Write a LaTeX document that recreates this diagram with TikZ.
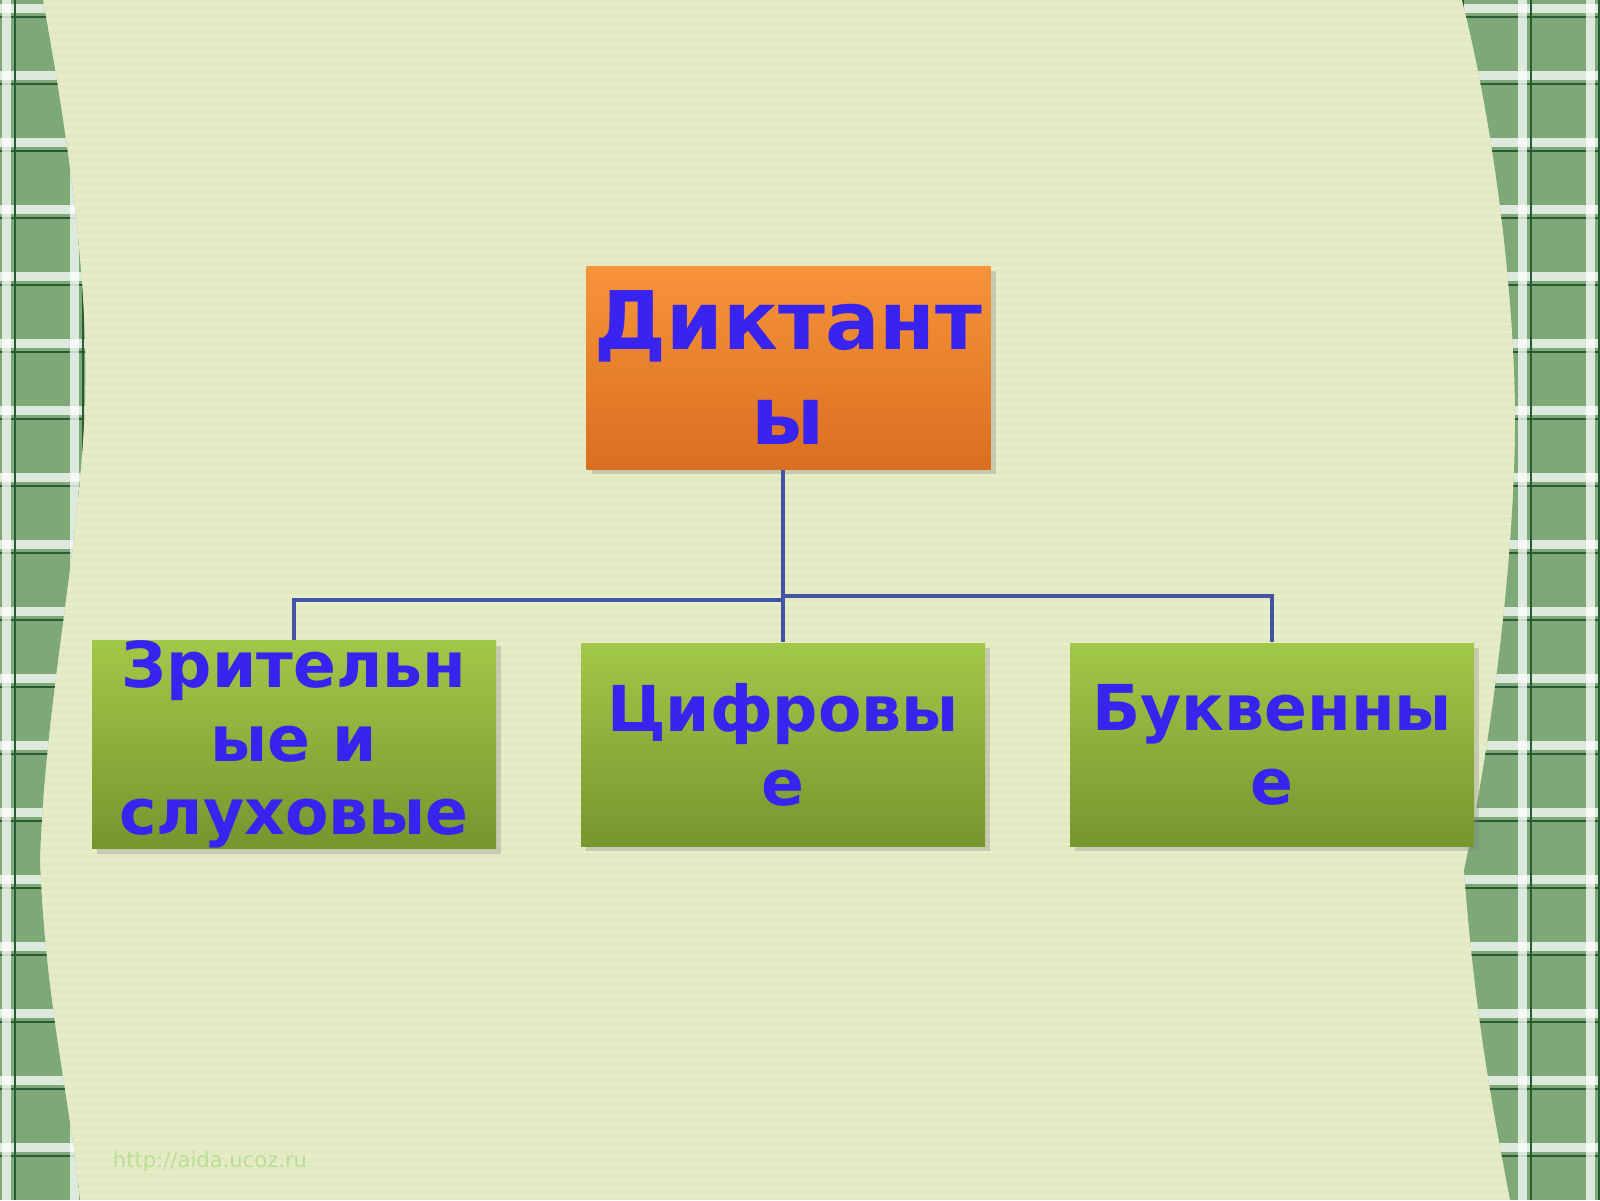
\documentclass[tikz,border=0pt]{standalone}
\usepackage{fontspec}
\setmainfont{DejaVu Sans}
\usetikzlibrary{shadows}
\definecolor{paper}{RGB}{227,234,194}
\definecolor{ink}{RGB}{56,36,238}
\definecolor{wire}{RGB}{68,84,164}
\definecolor{cellgreen}{RGB}{126,168,120}
\definecolor{darkgreen}{RGB}{42,92,52}
\definecolor{orangetop}{RGB}{246,148,58}
\definecolor{orangebot}{RGB}{218,110,32}
\definecolor{greentop}{RGB}{162,200,72}
\definecolor{greenbot}{RGB}{118,150,46}
\definecolor{urlgreen}{RGB}{186,222,150}

% plaid border: x0, x1, first vertical band
\newcommand\plaid[3]{%
  \fill[cellgreen] (#1,0) rectangle (#2,-12);
  \foreach \k in {0,...,18} {
    \fill[white, opacity=0.75] (#1,{-0.67*\k-0.04}) rectangle (#2,{-0.67*\k-0.13});
    \draw[darkgreen, line width=0.6pt] (#1,{-0.67*\k-0.17}) -- (#2,{-0.67*\k-0.17});
  }
  \foreach \k in {0,...,3} {
    \fill[white, opacity=0.75] ({#3+0.68*\k},0) rectangle ({#3+0.68*\k+0.09},-12);
    \draw[darkgreen, line width=0.6pt] ({#3+0.68*\k+0.13},0) -- ({#3+0.68*\k+0.13},-12);
  }
}

\begin{document}
\begin{tikzpicture}[
  box/.style={minimum width=4.04cm, minimum height=2.03cm, inner sep=0pt, align=center,
    text=ink, font=\bfseries\fontsize{18}{21}\selectfont,
    drop shadow={opacity=0.3, shadow xshift=1.5pt, shadow yshift=-1.5pt}},
  leaf/.style={box, top color=greentop, bottom color=greenbot},
  link/.style={draw=wire, line width=0.9pt}
]
\useasboundingbox (0,0) rectangle (16,-12);
\fill[paper] (0,0) rectangle (16,-12);
\foreach \y in {0.04,0.12,...,12} \draw[white, opacity=0.18, line width=0.5pt] (0,-\y) -- (16,-\y);

% borders
\begin{scope}
\clip (0,0) -- (0.43,0) .. controls (0.7,-1.5) and (0.88,-2.8) .. (0.85,-4.0)
  .. controls (0.8,-5.5) and (0.45,-7.0) .. (0.4,-8.6)
  .. controls (0.45,-10.0) and (0.7,-11.0) .. (0.8,-12) -- (0,-12) -- cycle;
\plaid{0}{1}{0.02}
\end{scope}
\begin{scope}
\clip (16,0) -- (14.62,0) .. controls (14.95,-1.3) and (15.15,-3.0) .. (15.15,-4.2)
  .. controls (15.15,-5.6) and (14.9,-7.5) .. (14.64,-8.7)
  .. controls (14.75,-10.2) and (14.95,-11.2) .. (15.1,-12) -- (16,-12) -- cycle;
\plaid{14.3}{16}{14.5}
\end{scope}

\node[box, top color=orangetop, bottom color=orangebot, font=\bfseries\fontsize{23}{27}\selectfont] (D) at (7.885,-3.675) {Диктант\\ы};
\node[leaf] (Z) at (2.94,-7.445) {Зрительн\\ые и\\слуховые};
\node[leaf] (C) at (7.83,-7.445) {Цифровы\\е};
\node[leaf] (B) at (12.72,-7.445) {Буквенны\\е};

\coordinate (J) at (7.83,-6.0);
\coordinate (K) at (7.83,-5.96);
\draw[link] (C.north |- D.south) -- (C.north);
\draw[link] (J) -| (Z.north);
\draw[link] (K) -| (B.north);

\node[text=urlgreen, font=\fontsize{6}{7}\selectfont] (U) at (2.1,-11.62) {http://aida.ucoz.ru};
\end{tikzpicture}
\end{document}
